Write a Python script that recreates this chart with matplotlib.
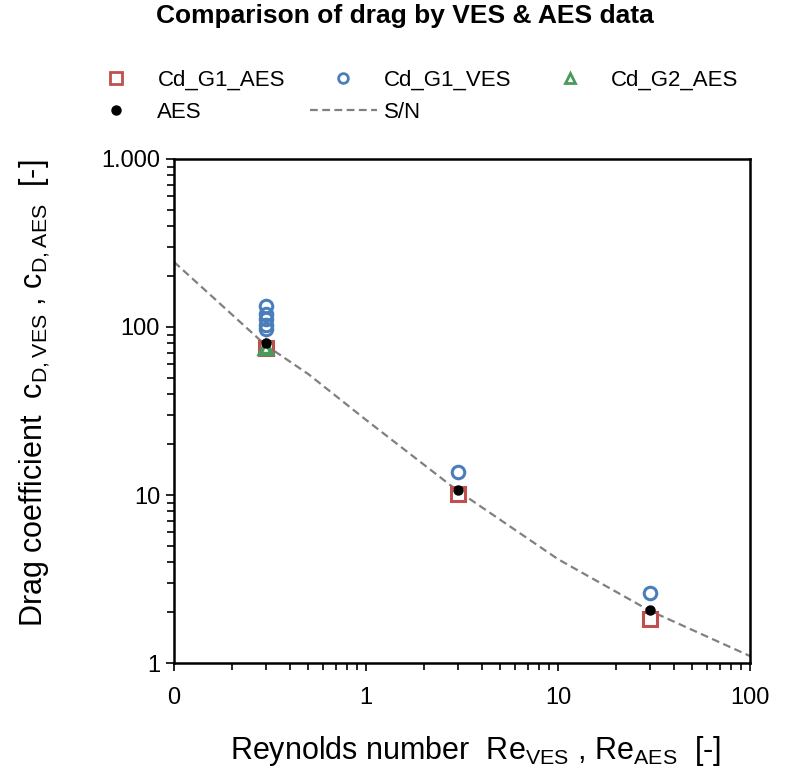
import matplotlib
matplotlib.use("Agg")
import matplotlib.pyplot as plt
from matplotlib.lines import Line2D
from matplotlib.ticker import FixedLocator, FixedFormatter, LogLocator, NullFormatter

plt.rcParams['font.family'] = ['Liberation Sans', 'DejaVu Sans']
plt.rcParams['mathtext.default'] = 'regular'

# -----------------------------
# Data
# -----------------------------
re_g1_aes = [0.3, 3, 30]
cd_g1_aes = [75, 10.2, 1.83]

re_g1_ves = [0.3, 0.3, 0.3, 0.3, 0.3, 3, 30]
cd_g1_ves = [133, 120, 111, 103, 97, 13.7, 2.61]

re_g2_aes = [0.3]
cd_g2_aes = [75]

re_aes = [0.3, 3, 30]
cd_aes = [80, 10.7, 2.07]

re_sn = [0.1, 0.3, 0.5, 1, 3, 10, 30, 100]
cd_sn = [244, 78, 52.5, 28, 10.6, 4.15, 2.05, 1.1]

x_ticks = [0.1, 1, 10, 100]
x_labels = ["0", "1", "10", "100"]
y_ticks = [1, 10, 100, 1000]
y_labels = ["1", "10", "100", "1.000"]

red = "#C0504D"
blue = "#4A7EBB"
green = "#4A9A5E"
grey = "#808080"
dash = (0, (3.5, 2))

fig = plt.figure(figsize=(7.88, 7.68), dpi=100)
ax = fig.add_axes([0.2208, 0.1367, 0.731, 0.6563])

ax.plot(re_sn, cd_sn, linestyle=dash, color=grey, linewidth=1.6, zorder=1)
ax.plot(re_g1_aes, cd_g1_aes, "s", ms=9.5, mfc="white", mec=red, mew=2.2, zorder=2)
ax.plot(re_g1_ves, cd_g1_ves, "o", ms=9, mfc="none", mec=blue, mew=2.2, zorder=3)
ax.plot(re_g2_aes, cd_g2_aes, "^", ms=9, mfc="none", mec=green, mew=3.2, zorder=4)
ax.plot(re_aes, cd_aes, "o", ms=6.5, color="black", zorder=5)

ax.set_xscale("log")
ax.set_yscale("log")
ax.set_xlim(0.1, 100)
ax.set_ylim(1, 1000)

ax.xaxis.set_major_locator(FixedLocator(x_ticks))
ax.xaxis.set_major_formatter(FixedFormatter(x_labels))
ax.yaxis.set_major_locator(FixedLocator(y_ticks))
ax.yaxis.set_major_formatter(FixedFormatter(y_labels))
ax.xaxis.set_minor_locator(LogLocator(base=10, subs=range(2, 10)))
ax.yaxis.set_minor_locator(LogLocator(base=10, subs=range(2, 10)))
ax.xaxis.set_minor_formatter(NullFormatter())
ax.yaxis.set_minor_formatter(NullFormatter())

ax.tick_params(which="both", direction="out", width=1.2, labelsize=17)
ax.tick_params(which="major", length=6)
ax.tick_params(which="minor", length=5)
ax.tick_params(axis="x", pad=11.5)
ax.tick_params(axis="y", pad=4)
for sp in ax.spines.values():
    sp.set_linewidth(1.8)

ax.set_xlabel("Reynolds number  Re$_{VES}$ , Re$_{AES}$  [-]", fontsize=22)
ax.set_ylabel("Drag coefficient  c$_{D,VES}$ , c$_{D,AES}$  [-]", fontsize=22)
ax.xaxis.set_label_coords(0.523, -0.14)
ax.yaxis.set_label_coords(-0.212, 0.536)

fig.suptitle("Comparison of drag by VES & AES data", x=0.514, y=0.995,
             va="top", fontsize=19, fontweight="bold")

# legend proxies (smaller markers than in the plot)
leg_g1a = Line2D([], [], ls="none", marker="s", ms=8, mfc="white", mec=red, mew=2)
leg_aes = Line2D([], [], ls="none", marker="o", ms=6.5, color="black")
leg_g1v = Line2D([], [], ls="none", marker="o", ms=7, mfc="none", mec=blue, mew=2)
leg_sn = Line2D([], [], ls=dash, color=grey, lw=1.6)
leg_g2a = Line2D([], [], ls="none", marker="^", ms=7.5, mfc="none", mec=green, mew=2)

fig.legend([leg_g1a, leg_aes, leg_g1v, leg_sn, leg_g2a],
           ["Cd_G1_AES", "AES", "Cd_G1_VES", "S/N", "Cd_G2_AES"],
           ncol=3, loc="upper left", bbox_to_anchor=(83 / 788, 1 - 70 / 768),
           frameon=False, fontsize=16, borderpad=0, borderaxespad=0,
           handlelength=3.0, handletextpad=0.35, columnspacing=1.12,
           labelspacing=0.5)

fig.savefig("out.png", dpi=100)
